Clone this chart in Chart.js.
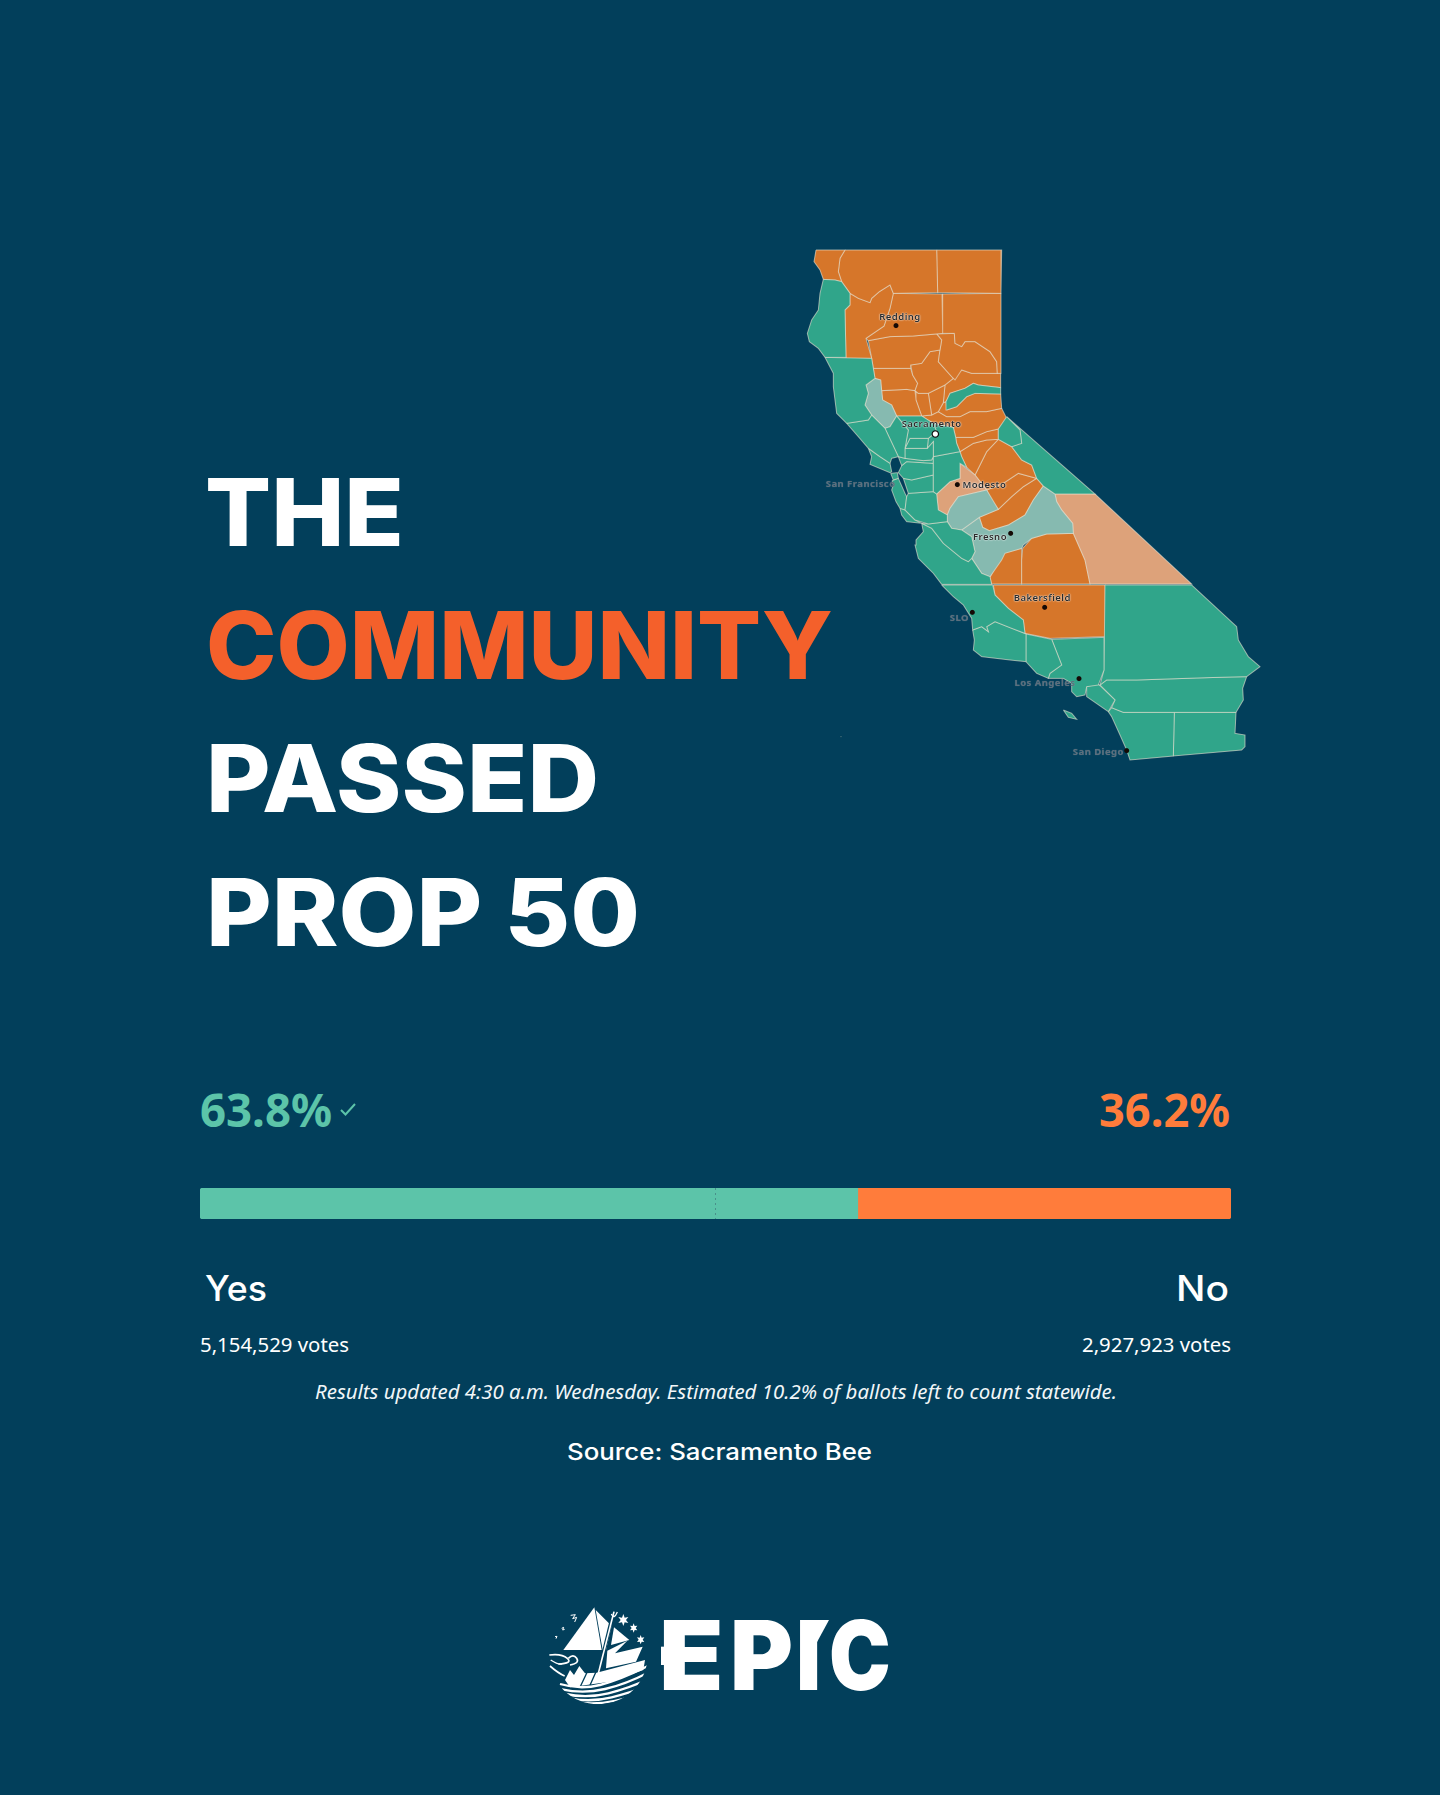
<!DOCTYPE html>
<html><head><meta charset="utf-8">
<script src="https://cdn.jsdelivr.net/npm/chart.js@4/dist/chart.umd.min.js"></script>
<style>
html,body{margin:0;padding:0;background:#023f5b;}
#page{position:relative;width:1440px;height:1795px;overflow:hidden;background:#023f5b;}
.t{position:absolute;white-space:nowrap;line-height:1;transform-origin:left top;display:inline-block;}
.h{font-family:Inter,sans-serif;font-weight:850;font-size:93px;color:#fff;}
.n{font-family:"Noto Sans",sans-serif;}
.i{font-family:Inter,sans-serif;}
canvas{position:absolute;}
.city{position:absolute;font:600 9.5px "Noto Sans",sans-serif;letter-spacing:.45px;white-space:nowrap;line-height:1;transform:translate(-50%,-50%);color:#2b2b2b;text-shadow:0 0 2px rgba(255,255,255,.95),0 0 1px rgba(255,255,255,.95);}
.city.dim{color:#5d6f7d;text-shadow:0 0 1px rgba(255,255,255,.25);font-weight:700;}
#epic b{display:inline-block;transform-origin:left center;}
</style></head><body>
<div id="page">
<span class="t h" data-w="199" style="left:205px;top:465.6px">THE</span>
<span class="t h" data-w="627" style="left:205.5px;top:599px;color:#f4602b">COMMUNITY</span>
<span class="t h" data-w="393" style="left:205.5px;top:732.3px">PASSED</span>
<span class="t h" data-w="434" style="left:205.5px;top:865.7px">PROP 50</span>
<canvas id="map" width="490" height="550" style="left:790px;top:230px;width:490px;height:550px"></canvas>
<span class="t n" data-w="132" style="left:199.5px;top:1086px;font-size:46px;font-weight:700;color:#5cc4a9">63.8%</span>
<svg style="position:absolute;left:338px;top:1101px" width="20" height="16" viewBox="0 0 20 16"><path d="M3 9 L7.5 13.5 L17 3" fill="none" stroke="#5cc4a9" stroke-width="2"/></svg>
<span class="t n" data-w="131" style="left:1099px;top:1086px;font-size:46px;font-weight:700;color:#ff7c3b">36.2%</span>
<canvas id="bar" width="1031" height="31" style="left:200px;top:1187.5px;width:1031px;height:31px"></canvas>
<span class="t i" data-w="62" style="left:205px;top:1270.5px;font-size:35px;font-weight:500;color:#fff">Yes</span>
<span class="t i" data-w="53" style="left:1176px;top:1270.5px;font-size:35px;font-weight:500;color:#fff">No</span>
<span class="t n" data-w="149" style="left:200px;top:1334px;font-size:20.3px;color:#fff">5,154,529 votes</span>
<span class="t n" data-w="149" style="left:1081.5px;top:1334px;font-size:20.3px;color:#fff">2,927,923 votes</span>
<span class="t n" data-w="802" style="left:315px;top:1382px;font-size:20px;font-style:italic;color:#f1f6f8">Results updated 4:30 a.m. Wednesday. Estimated 10.2% of ballots left to count statewide.</span>
<span class="t i" data-w="305" style="left:567px;top:1441.3px;font-size:23px;font-weight:500;color:#fff">Source: Sacramento Bee</span>
<svg style="position:absolute;left:530px;top:1590px" width="380" height="130" viewBox="0 0 1140 390">
<defs><clipPath id="disc"><circle cx="205" cy="195" r="148"/></clipPath></defs>
<g fill="#fff">
<path d="M193 52 L215 180 L100 180 Z"/><path d="M197 60 L245 108 L228 180 L218 180 Z"/><path d="M252 112 L298 150 L243 165 Z" />
<path d="M280 72 l4 11 11 -2 -7 9 7 9 -11 -2 -4 11 -4 -11 -11 2 7 -9 -7 -9 11 2z"/>
<path d="M311 100 l3 8 8 -1 -5 7 5 7 -8 -1 -3 8 -3 -8 -8 1 5 -7 -5 -7 8 1z"/>
<path d="M332 135 l3 8 8 -1 -5 7 5 7 -8 -1 -3 8 -3 -8 -8 1 5 -7 -5 -7 8 1z"/>
<path d="M232 182 L292 152 L255 190 L338 170 L318 215 L228 235 Z"/>
<path d="M105 270 L120 240 L132 255 L148 228 L165 250 L200 248 L345 210 L340 240 L240 275 L120 292 Z"/>
</g>
<g fill="none" stroke="#023f5b" stroke-width="4"><path d="M150 292 L172 245M178 290 L198 245"/><path d="M250 68 L208 240" stroke-width="11"/></g>
<g fill="none" stroke="#fff" clip-path="url(#disc)">
<path d="M90 282 Q150 300 210 285 T360 225" stroke-width="7"/>
<path d="M95 298 Q160 312 225 297 T360 245" stroke-width="7"/>
<path d="M105 312 Q170 326 235 310 T360 265" stroke-width="7"/>
<path d="M120 325 Q180 338 245 322 T360 285" stroke-width="7"/>
<path d="M145 337 Q195 345 255 332 T360 305" stroke-width="6"/>
</g>
<g fill="none" stroke="#fff"><path d="M252 65 L205 250" stroke-width="5"/><path d="M244 72 Q252 90 262 66" stroke-width="4"/>
<path d="M58 195 Q95 190 112 205 T85 222" stroke-width="5"/><path d="M62 210 Q85 225 95 222" stroke-width="4"/><path d="M60 228 Q85 250 104 258" stroke-width="5"/><path d="M115 205 Q130 190 140 205 T120 225" stroke-width="5"/>
<path d="M122 76 l14 -2 -8 12 12 -4 -6 14M95 115 l6 -3 -3 8 6 -2M75 140 l6 -1 -3 7" stroke-width="3"/></g>
</svg>
<span class="t i" id="epic" style="left:659px;top:1607px;font-size:96px;font-weight:900;color:#fff;letter-spacing:0"><b style="width:71px;transform:scaleX(1.1)">E</b><b style="width:66px;transform:scaleX(1)">P</b><b style="width:33px;transform:scaleX(.9)">I</b><b style="transform:scaleX(.86)">C</b></span>
<svg style="position:absolute;left:530px;top:1590px" width="380" height="130" viewBox="0 0 1140 390"><g fill="#fff"><path d="M393 170 H420 V225 H393 Z"/><path d="M855 90 H897 L860 158 Z"/></g></svg>
</div>
<script>
// Vote results
const barCategories = ["Prop 50"];
const yesShare = [63.8];
const noShare = [36.2];
const majorityMark = 50;

// Map results. Vertices are [east, south] in map grid units.
const delNorte = [[78,60],[165,60],[150,85],[145,125],[155,155],[135,150],[100,148],[90,120],[72,95]];
const siskiyou = [[165,60],[440,60],[443,188],[310,190],[300,165],[268,185],[245,205],[240,218],[205,205],[180,190],[155,155],[145,125],[150,85]];
const modoc = [[440,60],[635,60],[633,190],[443,188]];
const trinity = [[180,190],[205,205],[240,218],[245,205],[268,185],[300,165],[310,190],[300,235],[282,288],[228,325],[245,385],[168,385],[165,240],[180,225]];
const shasta = [[310,190],[456,192],[458,310],[370,318],[300,320],[235,332],[228,325],[282,288],[300,235]];
const lassen = [[456,192],[633,190],[633,430],[622,430],[620,395],[600,365],[555,335],[525,335],[515,350],[495,340],[493,310],[458,310]];
const tehama = [[235,332],[300,320],[370,318],[440,312],[455,330],[450,360],[420,365],[395,400],[362,405],[362,415],[250,415],[245,385]];
const plumas = [[440,312],[493,310],[495,340],[515,350],[525,335],[555,335],[600,365],[620,395],[622,430],[545,430],[515,420],[495,450],[485,440],[445,395],[450,360],[455,330]];
const butte = [[420,365],[450,360],[445,395],[490,445],[465,465],[415,490],[385,490],[375,482],[383,460],[368,435],[362,405],[395,400]];
const glenn = [[250,415],[362,415],[368,435],[383,460],[375,482],[350,478],[275,482],[272,450],[255,445]];
const colusa = [[275,482],[350,478],[375,482],[378,510],[395,558],[320,558],[305,525],[278,510]];
const sutter = [[375,482],[385,490],[415,490],[425,555],[395,558],[378,510]];
const yuba = [[415,490],[465,465],[460,518],[445,545],[425,555]];
const sierra = [[465,465],[490,445],[515,420],[545,430],[632,430],[632,473],[565,465],[550,460],[525,475],[480,490],[468,515],[460,518]];
const nevada = [[632,473],[632,492],[555,490],[530,500],[500,530],[470,540],[468,515],[480,490],[525,475],[550,460],[565,465]];
const placer = [[470,540],[500,530],[530,500],[555,490],[632,492],[635,535],[590,545],[540,545],[510,560],[470,560],[445,545],[460,518],[468,515]];
const elDorado = [[395,558],[425,555],[445,545],[470,560],[510,560],[540,545],[590,545],[635,535],[650,565],[625,597],[590,605],[550,622],[497,622],[490,592],[430,580]];
const amador = [[497,622],[550,622],[590,605],[625,597],[625,628],[590,630],[550,640],[510,665],[500,640]];
const calaveras = [[510,665],[550,640],[590,630],[625,628],[590,665],[555,735],[530,712],[515,680]];
const tuolumne = [[555,735],[590,665],[625,628],[665,650],[695,690],[725,705],[740,745],[685,730],[640,760],[590,780]];
const mariposa = [[590,780],[640,760],[685,730],[740,745],[700,770],[665,800],[625,838],[605,810]];
const madera = [[568,862],[625,838],[665,800],[700,770],[740,745],[760,768],[730,810],[705,855],[655,885],[598,902],[578,892]];
const alpine = [[650,560],[690,600],[695,640],[665,650],[625,628],[625,597]];
const mono = [[650,560],[915,792],[795,792],[770,775],[760,768],[740,745],[725,705],[695,690],[665,650],[695,640],[690,600]];
const inyo = [[795,792],[915,792],[1205,1062],[900,1062],[885,990],[850,910],[848,880],[815,840],[800,815]];
const merced = [[472,855],[480,835],[505,800],[590,780],[625,838],[568,862],[515,900],[485,895],[472,875]];
const fresno = [[515,900],[568,862],[578,892],[598,902],[655,885],[705,855],[730,810],[760,768],[770,775],[795,792],[800,815],[815,840],[848,880],[850,910],[770,912],[725,925],[700,945],[695,955],[645,970],[635,990],[600,1040],[575,1030],[545,985],[555,965],[545,920]];
const tulare = [[698,955],[725,925],[770,912],[850,910],[885,990],[900,1062],[695,1062],[695,990]];
const kings = [[600,1042],[640,970],[695,955],[695,1062],[605,1062]];
const kern = [[610,1065],[945,1065],[945,1220],[780,1225],[705,1210],[700,1170],[655,1135],[615,1095]];
const stanislaus = [[440,792],[480,755],[510,745],[510,700],[555,735],[590,780],[505,800],[480,835],[472,855],[445,840]];
const humboldt = [[100,148],[135,150],[155,155],[180,190],[180,225],[165,240],[168,382],[105,382],[85,355],[58,335],[52,310],[65,270],[85,240],[90,190]];
const mendocino = [[105,382],[245,385],[250,415],[255,445],[228,465],[235,490],[225,525],[245,555],[235,570],[170,580],[140,550],[130,470],[130,430]];
const lake = [[228,465],[255,445],[272,450],[275,482],[278,510],[305,525],[320,558],[300,590],[285,595],[245,555],[225,525],[235,490]];
const sonoma = [[170,580],[235,570],[245,555],[285,595],[325,680],[305,685],[300,700],[270,680],[235,655],[205,620]];
const marin = [[235,655],[270,680],[300,700],[305,725],[300,728],[240,703],[245,680]];
const napa = [[285,595],[300,590],[320,558],[355,600],[345,655],[345,685],[325,680]];
const yolo = [[320,558],[395,558],[430,580],[440,605],[415,625],[360,625],[345,655],[355,600]];
const yoloSouth = [[360,625],[415,625],[412,655],[345,655]];
const sacramentoWest = [[345,655],[412,655],[430,635],[430,680],[425,690],[400,692],[345,685]];
const sacramento = [[415,625],[440,605],[430,580],[490,592],[497,622],[500,640],[510,665],[430,680],[430,635],[412,655]];
const sanJoaquin = [[430,680],[510,665],[515,680],[530,712],[510,700],[510,745],[480,755],[440,792],[430,785]];
const solano = [[345,685],[400,692],[425,690],[430,680],[430,700],[350,695],[335,707],[325,680]];
const contraCosta = [[335,707],[350,695],[430,700],[430,735],[365,750],[340,745],[325,728]];
const alameda = [[340,745],[365,750],[430,735],[430,785],[355,790]];
const santaClara = [[355,790],[430,785],[440,792],[445,840],[472,855],[472,875],[415,882],[375,870],[345,840],[350,800]];
const sanFrancisco = [[302,730],[322,728],[325,745],[310,750]];
const sanMateo = [[306,752],[325,745],[345,790],[350,800],[345,840],[330,835],[318,815],[305,780],[310,765]];
const santaCruz = [[330,835],[345,840],[375,870],[395,880],[350,875],[335,855]];
const sanBenito = [[395,880],[415,882],[472,875],[485,895],[515,900],[545,920],[555,965],[545,985],[535,995],[515,985],[460,940],[425,895]];
const monterey = [[395,880],[425,895],[460,940],[515,985],[535,995],[545,985],[575,1030],[600,1040],[605,1063],[455,1063],[430,1030],[385,985],[375,945],[378,930],[400,905]];
const sanLuisObispo = [[455,1065],[608,1065],[615,1095],[655,1135],[700,1170],[705,1210],[665,1195],[615,1175],[590,1190],[595,1205],[575,1190],[548,1200],[545,1165],[520,1125],[490,1100]];
const santaBarbara = [[548,1200],[575,1190],[595,1205],[590,1190],[615,1175],[665,1195],[708,1212],[708,1295],[660,1290],[575,1280],[550,1260],[553,1230]];
const ventura = [[708,1212],[785,1228],[815,1305],[780,1330],[775,1345],[740,1330],[708,1295]];
const losAngeles = [[785,1228],[942,1222],[942,1320],[925,1365],[890,1370],[885,1395],[860,1400],[845,1385],[845,1360],[820,1345],[775,1345],[780,1330],[815,1305]];
const sanBernardino = [[945,1065],[1205,1065],[1340,1190],[1345,1230],[1375,1280],[1410,1310],[1370,1340],[1255,1343],[1040,1350],[950,1350],[930,1365],[942,1320]];
const orangeCounty = [[890,1370],[925,1362],[975,1410],[955,1445],[890,1400]];
const riverside = [[950,1350],[1040,1350],[1255,1343],[1370,1340],[1358,1375],[1360,1410],[1338,1447],[1000,1447],[965,1433],[975,1410],[930,1365]];
const sanDiego = [[955,1445],[965,1433],[1000,1447],[1153,1447],[1150,1578],[1020,1590],[1010,1560],[990,1515],[965,1460]];
const imperial = [[1153,1447],[1338,1447],[1335,1510],[1365,1515],[1365,1550],[1355,1560],[1150,1578]];
const catalina = [[820,1440],[845,1450],[860,1468],[835,1462]];

const strongNo = [delNorte,siskiyou,modoc,trinity,shasta,lassen,tehama,plumas,butte,glenn,colusa,sutter,yuba,sierra,placer,elDorado,amador,calaveras,tuolumne,mariposa,madera,tulare,kings,kern];
const leanNo = [inyo,stanislaus];
const leanYes = [lake,merced,fresno];
const strongYes = [humboldt,mendocino,sonoma,marin,napa,yolo,yoloSouth,sacramentoWest,sacramento,sanJoaquin,solano,contraCosta,alameda,santaClara,sanFrancisco,sanMateo,santaCruz,sanBenito,monterey,sanLuisObispo,santaBarbara,ventura,losAngeles,sanBernardino,orangeCounty,riverside,sanDiego,imperial,catalina,nevada,alpine,mono];

const cityNames = ["Redding","Modesto","Fresno","Bakersfield","SLO","Los Angeles","San Diego"];
const cityPoints = [[318,287],[502,764],[662,910],[764,1132],[547,1147],[867,1346],[1010,1562]];
const capitalName = ["Sacramento"];
const capitalPoint = [[436,612]];
const strayPoint = [[153,1520]];
const cityLabels = [
 ["Redding",330,260,0],["Sacramento",425,581,0],["Modesto",583,765,0],["San Francisco",212,763,1],
 ["Fresno",600,922,0],["Bakersfield",757,1105,0],["SLO",508,1163,1],["Los Angeles",765,1358,1],["San Diego",925,1565,1]
];
const fillColors = {strongNo:"#d6762a",leanNo:"#dda27a",leanYes:"#86bab0",strongYes:"#30a58a"};
const lineColor = "rgba(232,226,208,.62)";

function poly(pts,color){
  const data = pts.concat([pts[0]]).map(p=>({x:p[0],y:p[1]}));
  return {type:"line",data,parsing:false,fill:"shape",backgroundColor:color,borderColor:lineColor,borderWidth:1,pointRadius:0,tension:0,order:5};
}
const mapSets = [
  ...strongYes.map(p=>poly(p,fillColors.strongYes)),
  ...leanYes.map(p=>poly(p,fillColors.leanYes)),
  ...leanNo.map(p=>poly(p,fillColors.leanNo)),
  ...strongNo.map(p=>poly(p,fillColors.strongNo)),
  {type:"scatter",data:cityPoints.map(p=>({x:p[0],y:p[1]})),backgroundColor:"#150a06",borderColor:"#150a06",pointRadius:2,order:1},
  {type:"scatter",data:capitalPoint.map(p=>({x:p[0],y:p[1]})),backgroundColor:"#fff",borderColor:"#111",borderWidth:1.2,pointRadius:3.2,order:1},
  {type:"scatter",data:strayPoint.map(p=>({x:p[0],y:p[1]})),backgroundColor:"rgba(150,190,190,.5)",pointRadius:.7,order:1}
];
const mapChart = new Chart(document.getElementById("map"),{
  type:"scatter",
  data:{datasets:mapSets},
  options:{responsive:false,animation:false,events:[],devicePixelRatio:2,
    layout:{padding:0,autoPadding:false},
    plugins:{legend:{display:false},tooltip:{enabled:false}},
    scales:{x:{type:"linear",min:0,max:1470,display:false},y:{type:"linear",min:0,max:1650,reverse:true,display:false}}}
});
const page = document.getElementById("page");
const canvasBox = {left:790,top:230};
cityLabels.forEach(([txt,x,y,dim])=>{
  const d=document.createElement("div");
  d.className="city"+(dim?" dim":"");
  d.textContent=txt;
  d.style.left=(canvasBox.left+mapChart.scales.x.getPixelForValue(x))+"px";
  d.style.top=(canvasBox.top+mapChart.scales.y.getPixelForValue(y))+"px";
  page.appendChild(d);
});

const majorityLine = {id:"majorityLine",afterDatasetsDraw(c){
  const x=c.scales.x.getPixelForValue(majorityMark),g=c.ctx;
  g.save();g.strokeStyle="rgba(60,110,120,.6)";g.lineWidth=1;g.setLineDash([2,3]);
  g.beginPath();g.moveTo(x,0);g.lineTo(x,c.height);g.stroke();g.restore();
}};
new Chart(document.getElementById("bar"),{
  type:"bar",
  data:{labels:barCategories,datasets:[
    {label:"Yes",data:yesShare,backgroundColor:"#5cc4a9",borderSkipped:false,borderRadius:{topLeft:3,bottomLeft:3,topRight:0,bottomRight:0},barPercentage:1,categoryPercentage:1},
    {label:"No",data:noShare,backgroundColor:"#ff7c3b",borderSkipped:false,borderRadius:{topLeft:0,bottomLeft:0,topRight:3,bottomRight:3},barPercentage:1,categoryPercentage:1}
  ]},
  options:{indexAxis:"y",responsive:false,animation:false,events:[],devicePixelRatio:2,layout:{padding:0,autoPadding:false},
    plugins:{legend:{display:false},tooltip:{enabled:false}},
    scales:{x:{stacked:true,min:0,max:100,display:false},y:{stacked:true,display:false}}},
  plugins:[majorityLine]
});
document.querySelectorAll("[data-w]").forEach(e=>{
  const w=e.getBoundingClientRect().width;
  e.style.transform="scaleX("+(parseFloat(e.dataset.w)/w)+")";
});
</script>
</body></html>
